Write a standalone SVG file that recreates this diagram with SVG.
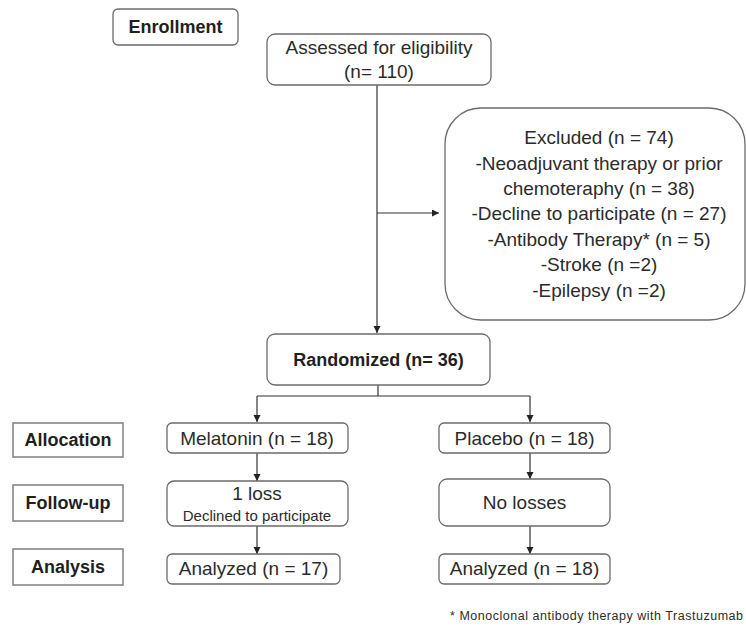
<svg xmlns="http://www.w3.org/2000/svg" width="746" height="628" viewBox="0 0 746 628">
<style>
  .node { fill: #ffffff; stroke: #6b6b6b; stroke-width: 1.3; }
  .lbl { fill: #ffffff; stroke: #7f7f7f; stroke-width: 1.5; }
  .t { font-family: "Liberation Sans", Arial, sans-serif; font-size: 19px; fill: #2b2b2b; text-anchor: middle; }
  .b { font-family: "Liberation Sans", Arial, sans-serif; font-size: 18px; font-weight: bold; fill: #1f1f1f; text-anchor: middle; }
  .s { font-family: "Liberation Sans", Arial, sans-serif; font-size: 15px; fill: #2b2b2b; text-anchor: middle; }
  .fn { font-family: "Liberation Sans", Arial, sans-serif; font-size: 12.5px; fill: #2b2b2b; }
  .c { fill: none; stroke: #333333; stroke-width: 1.2; }
</style>
<defs>
  <marker id="ah" markerUnits="userSpaceOnUse" markerWidth="8" markerHeight="8" refX="7" refY="3.5" orient="auto">
    <path d="M0,0 L7,3.5 L0,7 Z" fill="#222222"/>
  </marker>
</defs>
<rect x="0" y="0" width="746" height="628" fill="#ffffff"/>

<g id="connectors">
  <line class="c" x1="377" y1="85" x2="377" y2="333" marker-end="url(#ah)"/>
  <line class="c" x1="377" y1="213" x2="439" y2="213" marker-end="url(#ah)"/>
  <polyline class="c" points="378,385 378,396"/>
  <polyline class="c" points="257,396 530,396"/>
  <line class="c" x1="257" y1="396" x2="257" y2="422" marker-end="url(#ah)"/>
  <line class="c" x1="530" y1="396" x2="530" y2="422" marker-end="url(#ah)"/>
  <line class="c" x1="257" y1="453" x2="257" y2="481" marker-end="url(#ah)"/>
  <line class="c" x1="257" y1="526" x2="257" y2="554" marker-end="url(#ah)"/>
  <line class="c" x1="530" y1="453" x2="530" y2="479" marker-end="url(#ah)"/>
  <line class="c" x1="530" y1="526" x2="530" y2="554" marker-end="url(#ah)"/>
</g>

<g id="enrollment">
  <rect class="node" x="113" y="9" width="125" height="36" rx="5"/>
  <text class="b" x="175.5" y="33">Enrollment</text>
</g>

<g id="assessed">
  <rect class="node" x="267" y="34" width="224" height="51" rx="8"/>
  <text class="t" x="379" y="54">Assessed for eligibility</text>
  <text class="t" x="379" y="78">(n= 110)</text>
</g>

<g id="excluded">
  <rect class="node" x="445" y="108" width="300" height="212" rx="36"/>
  <text class="t" x="599" y="144">Excluded (n = 74)</text>
  <text class="t" x="599" y="170">-Neoadjuvant therapy or prior</text>
  <text class="t" x="599" y="195">chemoteraphy (n = 38)</text>
  <text class="t" x="599" y="220">-Decline to participate (n = 27)</text>
  <text class="t" x="599" y="246">-Antibody Therapy* (n = 5)</text>
  <text class="t" x="599" y="271">-Stroke (n =2)</text>
  <text class="t" x="599" y="297">-Epilepsy (n =2)</text>
</g>

<g id="randomized">
  <rect class="node" x="267" y="334" width="223" height="51" rx="8"/>
  <text class="b" x="378.5" y="366">Randomized (n= 36)</text>
</g>

<g id="allocation-label">
  <rect class="lbl" x="13" y="423" width="110" height="34"/>
  <text class="b" x="68" y="446">Allocation</text>
</g>
<g id="followup-label">
  <rect class="lbl" x="13" y="485" width="110" height="36"/>
  <text class="b" x="68" y="509">Follow-up</text>
</g>
<g id="analysis-label">
  <rect class="lbl" x="13" y="549" width="110" height="36"/>
  <text class="b" x="68" y="573">Analysis</text>
</g>

<g id="melatonin">
  <rect class="node" x="167" y="423" width="181" height="30" rx="5"/>
  <text class="t" x="257" y="445">Melatonin (n = 18)</text>
</g>
<g id="placebo">
  <rect class="node" x="439" y="423" width="171" height="30" rx="5"/>
  <text class="t" x="524.5" y="445">Placebo (n = 18)</text>
</g>
<g id="loss">
  <rect class="node" x="167" y="481" width="181" height="45" rx="7"/>
  <text class="t" x="257" y="500">1 loss</text>
  <text class="s" x="257" y="521">Declined to participate</text>
</g>
<g id="nolosses">
  <rect class="node" x="439" y="479" width="171" height="47" rx="8"/>
  <text class="t" x="524.5" y="509">No losses</text>
</g>
<g id="analyzed17">
  <rect class="node" x="167" y="554" width="173" height="30" rx="5"/>
  <text class="t" x="253.5" y="575">Analyzed (n = 17)</text>
</g>
<g id="analyzed18">
  <rect class="node" x="439" y="554" width="171" height="30" rx="5"/>
  <text class="t" x="524.5" y="575">Analyzed (n = 18)</text>
</g>

<text class="fn" x="450" y="620" textLength="293" lengthAdjust="spacing">* Monoclonal antibody therapy with Trastuzumab</text>
</svg>
